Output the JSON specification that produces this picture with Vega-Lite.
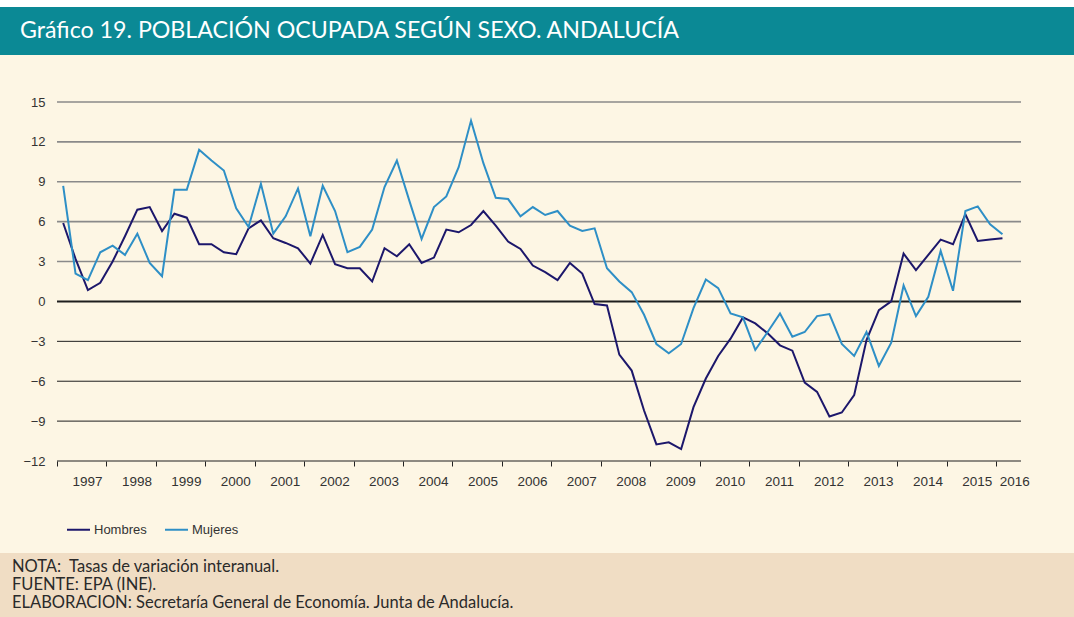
{
  "$schema": "https://vega.github.io/schema/vega-lite/v6.json",
  "background": "white",
  "padding": {"top": 7, "left": 0, "right": 0, "bottom": 0},
  "spacing": 0,
  "config": {"view": {"stroke": null}},
  "vconcat": [
    {
      "width": 1074,
      "height": 48,
      "view": {"fill": "#0b8995", "stroke": null},
      "data": {"values": [{"titulo": "Gráfico 19. POBLACIÓN OCUPADA SEGÚN SEXO. ANDALUCÍA"}]},
      "mark": {"type": "text", "align": "left", "baseline": "middle", "dx": 20, "font": "Lato", "fontSize": 23.2, "color": "white"},
      "encoding": {
        "x": {"datum": 0, "type": "quantitative", "scale": {"domain": [0, 1]}, "axis": null},
        "text": {"field": "titulo"}
      }
    },
    {
      "width": 1074,
      "height": 498,
      "view": {"fill": "#fdf6e4", "stroke": null},
      "layer": [
        {
          "data": {"values": [{"v": 15}, {"v": 12}, {"v": 9}, {"v": 6}, {"v": 3}, {"v": 0}, {"v": -3}, {"v": -6}, {"v": -9}, {"v": -12}]},
          "mark": {"type": "rule"},
          "encoding": {
            "x": {"datum": 1997, "type": "quantitative",
                  "scale": {"domain": [1997, 2016.5], "range": [57, 1021], "nice": false, "zero": false},
                  "axis": {"title": null, "offset": -92, "values": [1997,1998,1999,2000,2001,2002,2003,2004,2005,2006,2007,2008,2009,2010,2011,2012,2013,2014,2015,2016], "format": "d", "domain": false, "grid": false, "ticks": true, "tickSize": 5, "tickColor": "#222222", "labelPadding": 8, "labelFont": "Liberation Sans", "labelFontSize": 13.5, "labelColor": "#333333", "labelOverlap": false, "labelFlush": false, "labelBound": false, "labelOffset": {"condition": {"test": "datum.value == 2016", "value": 18}, "value": 30}}},
            "x2": {"datum": 2016.5},
            "y": {"field": "v", "type": "quantitative",
                  "scale": {"domain": [-12, 15], "range": [406, 47], "nice": false, "zero": false},
                  "axis": {"title": null, "offset": -57, "values": [-12,-9,-6,-3,0,3,6,9,12,15], "domain": false, "grid": false, "ticks": false, "tickSize": 0, "labelPadding": 12, "labelFont": "Liberation Sans", "labelFontSize": 13, "labelColor": "#333333", "labelOverlap": false, "labelFlush": false}},
            "color": {"condition": {"test": "datum.v > 0", "value": "#8a8a8a"}, "value": "#1e1e1e"},
            "strokeWidth": {"condition": [{"test": "datum.v == 0", "value": 2}, {"test": "datum.v > 0", "value": 1.6}], "value": 1}
          }
        },
        {
          "data": {"values": [
            {"t": 1997.125, "Hombres": 5.9, "Mujeres": 8.7},
            {"t": 1997.375, "Hombres": 3.2, "Mujeres": 2.1},
            {"t": 1997.625, "Hombres": 0.85, "Mujeres": 1.6},
            {"t": 1997.875, "Hombres": 1.4, "Mujeres": 3.7},
            {"t": 1998.125, "Hombres": 3.0, "Mujeres": 4.2},
            {"t": 1998.375, "Hombres": 4.9, "Mujeres": 3.5},
            {"t": 1998.625, "Hombres": 6.9, "Mujeres": 5.1},
            {"t": 1998.875, "Hombres": 7.1, "Mujeres": 2.9},
            {"t": 1999.125, "Hombres": 5.3, "Mujeres": 1.9},
            {"t": 1999.375, "Hombres": 6.6, "Mujeres": 8.4},
            {"t": 1999.625, "Hombres": 6.3, "Mujeres": 8.4},
            {"t": 1999.875, "Hombres": 4.3, "Mujeres": 11.4},
            {"t": 2000.125, "Hombres": 4.3, "Mujeres": 10.6},
            {"t": 2000.375, "Hombres": 3.7, "Mujeres": 9.85},
            {"t": 2000.625, "Hombres": 3.55, "Mujeres": 7.0},
            {"t": 2000.875, "Hombres": 5.5, "Mujeres": 5.6},
            {"t": 2001.125, "Hombres": 6.1, "Mujeres": 8.85},
            {"t": 2001.375, "Hombres": 4.75, "Mujeres": 5.1},
            {"t": 2001.625, "Hombres": 4.4, "Mujeres": 6.4},
            {"t": 2001.875, "Hombres": 4.0, "Mujeres": 8.5},
            {"t": 2002.125, "Hombres": 2.85, "Mujeres": 4.9},
            {"t": 2002.375, "Hombres": 5.0, "Mujeres": 8.7},
            {"t": 2002.625, "Hombres": 2.8, "Mujeres": 6.8},
            {"t": 2002.875, "Hombres": 2.5, "Mujeres": 3.7},
            {"t": 2003.125, "Hombres": 2.5, "Mujeres": 4.1},
            {"t": 2003.375, "Hombres": 1.5, "Mujeres": 5.4},
            {"t": 2003.625, "Hombres": 4.0, "Mujeres": 8.6},
            {"t": 2003.875, "Hombres": 3.4, "Mujeres": 10.6},
            {"t": 2004.125, "Hombres": 4.3, "Mujeres": 7.6},
            {"t": 2004.375, "Hombres": 2.9, "Mujeres": 4.7},
            {"t": 2004.625, "Hombres": 3.3, "Mujeres": 7.1},
            {"t": 2004.875, "Hombres": 5.4, "Mujeres": 7.9},
            {"t": 2005.125, "Hombres": 5.2, "Mujeres": 10.1},
            {"t": 2005.375, "Hombres": 5.75, "Mujeres": 13.6},
            {"t": 2005.625, "Hombres": 6.8, "Mujeres": 10.4},
            {"t": 2005.875, "Hombres": 5.7, "Mujeres": 7.8},
            {"t": 2006.125, "Hombres": 4.5, "Mujeres": 7.7},
            {"t": 2006.375, "Hombres": 3.95, "Mujeres": 6.4},
            {"t": 2006.625, "Hombres": 2.7, "Mujeres": 7.1},
            {"t": 2006.875, "Hombres": 2.2, "Mujeres": 6.5},
            {"t": 2007.125, "Hombres": 1.6, "Mujeres": 6.8},
            {"t": 2007.375, "Hombres": 2.9, "Mujeres": 5.7},
            {"t": 2007.625, "Hombres": 2.1, "Mujeres": 5.3},
            {"t": 2007.875, "Hombres": -0.2, "Mujeres": 5.5},
            {"t": 2008.125, "Hombres": -0.3, "Mujeres": 2.5},
            {"t": 2008.375, "Hombres": -4.0, "Mujeres": 1.5},
            {"t": 2008.625, "Hombres": -5.2, "Mujeres": 0.7},
            {"t": 2008.875, "Hombres": -8.2, "Mujeres": -1.0},
            {"t": 2009.125, "Hombres": -10.75, "Mujeres": -3.2},
            {"t": 2009.375, "Hombres": -10.6, "Mujeres": -3.9},
            {"t": 2009.625, "Hombres": -11.1, "Mujeres": -3.2},
            {"t": 2009.875, "Hombres": -7.95, "Mujeres": -0.5},
            {"t": 2010.125, "Hombres": -5.8, "Mujeres": 1.65},
            {"t": 2010.375, "Hombres": -4.1, "Mujeres": 1.0},
            {"t": 2010.625, "Hombres": -2.8, "Mujeres": -0.9},
            {"t": 2010.875, "Hombres": -1.2, "Mujeres": -1.2},
            {"t": 2011.125, "Hombres": -1.65, "Mujeres": -3.65},
            {"t": 2011.375, "Hombres": -2.4, "Mujeres": -2.3},
            {"t": 2011.625, "Hombres": -3.3, "Mujeres": -0.9},
            {"t": 2011.875, "Hombres": -3.7, "Mujeres": -2.65},
            {"t": 2012.125, "Hombres": -6.1, "Mujeres": -2.3},
            {"t": 2012.375, "Hombres": -6.8, "Mujeres": -1.1},
            {"t": 2012.625, "Hombres": -8.65, "Mujeres": -0.95},
            {"t": 2012.875, "Hombres": -8.35, "Mujeres": -3.2},
            {"t": 2013.125, "Hombres": -7.05, "Mujeres": -4.1},
            {"t": 2013.375, "Hombres": -2.9, "Mujeres": -2.3},
            {"t": 2013.625, "Hombres": -0.65, "Mujeres": -4.85},
            {"t": 2013.875, "Hombres": 0.0, "Mujeres": -3.1},
            {"t": 2014.125, "Hombres": 3.6, "Mujeres": 1.2},
            {"t": 2014.375, "Hombres": 2.35, "Mujeres": -1.1},
            {"t": 2014.625, "Hombres": 3.5, "Mujeres": 0.35},
            {"t": 2014.875, "Hombres": 4.65, "Mujeres": 3.8},
            {"t": 2015.125, "Hombres": 4.3, "Mujeres": 0.8},
            {"t": 2015.375, "Hombres": 6.55, "Mujeres": 6.8},
            {"t": 2015.625, "Hombres": 4.55, "Mujeres": 7.15},
            {"t": 2015.875, "Hombres": 4.65, "Mujeres": 5.8},
            {"t": 2016.125, "Hombres": 4.75, "Mujeres": 5.05}
          ]},
          "transform": [{"fold": ["Hombres", "Mujeres"], "as": ["serie", "v"]}],
          "mark": {"type": "line", "strokeWidth": 2},
          "encoding": {
            "x": {"field": "t", "type": "quantitative",
                  "scale": {"domain": [1997, 2016.5], "range": [57, 1021], "nice": false, "zero": false},
                  "axis": {"title": null, "offset": -92, "values": [1997,1998,1999,2000,2001,2002,2003,2004,2005,2006,2007,2008,2009,2010,2011,2012,2013,2014,2015,2016], "format": "d", "domain": false, "grid": false, "ticks": true, "tickSize": 5, "tickColor": "#222222", "labelPadding": 8, "labelFont": "Liberation Sans", "labelFontSize": 13.5, "labelColor": "#333333", "labelOverlap": false, "labelFlush": false, "labelBound": false, "labelOffset": {"condition": {"test": "datum.value == 2016", "value": 18}, "value": 30}}},
            "y": {"field": "v", "type": "quantitative",
                  "scale": {"domain": [-12, 15], "range": [406, 47], "nice": false, "zero": false},
                  "axis": {"title": null, "offset": -57, "values": [-12,-9,-6,-3,0,3,6,9,12,15], "domain": false, "grid": false, "ticks": false, "tickSize": 0, "labelPadding": 12, "labelFont": "Liberation Sans", "labelFontSize": 13, "labelColor": "#333333", "labelOverlap": false, "labelFlush": false}},
            "color": {"field": "serie", "type": "nominal",
                      "scale": {"domain": ["Hombres", "Mujeres"], "range": ["#1c176b", "#2e8fc6"]},
                      "legend": {"title": null, "orient": "none", "legendX": 66, "legendY": 510, "direction": "horizontal", "symbolType": "stroke", "symbolSize": 529, "symbolStrokeWidth": 2, "labelFont": "Liberation Sans", "labelFontSize": 13, "labelColor": "#333333", "labelOffset": 3, "columnPadding": 14, "padding": 0}}
          }
        }
      ]
    },
    {
      "width": 1074,
      "height": 64,
      "view": {"fill": "#f0ddc4", "stroke": null},
      "data": {"values": [
        {"n": 1, "texto": "NOTA:\u00a0 Tasas de variación interanual."},
        {"n": 2, "texto": "FUENTE: EPA (INE)."},
        {"n": 3, "texto": "ELABORACION: Secretaría General de Economía. Junta de Andalucía."}
      ]},
      "mark": {"type": "text", "align": "left", "baseline": "middle", "dx": 12, "font": "Lato", "fontSize": 16.5, "color": "#2a2a2a"},
      "encoding": {
        "x": {"datum": 0, "type": "quantitative", "scale": {"domain": [0, 1]}, "axis": null},
        "y": {"field": "n", "type": "ordinal", "scale": {"type": "point", "padding": 0.75}, "axis": null},
        "text": {"field": "texto"}
      }
    }
  ]
}
